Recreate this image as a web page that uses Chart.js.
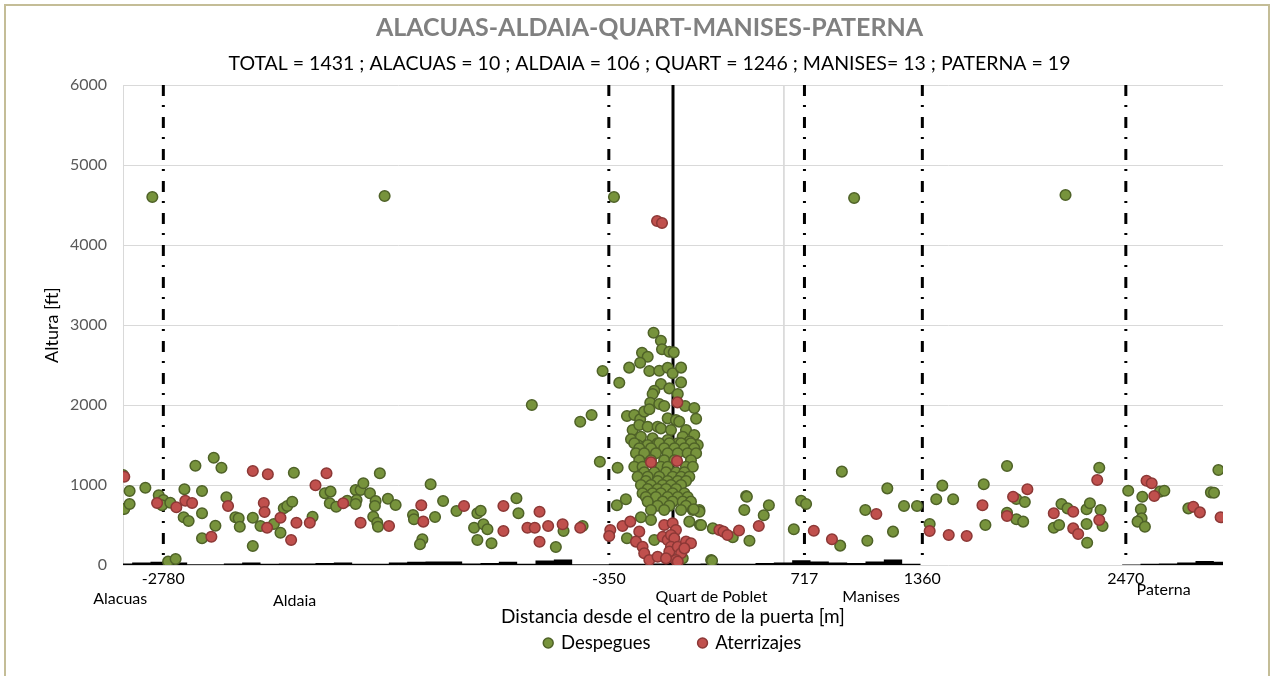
<!DOCTYPE html>
<html>
<head>
<meta charset="utf-8">
<script src="https://cdn.jsdelivr.net/npm/chart.js@4/dist/chart.umd.min.js"></script>
<style>
  html, body { margin: 0; padding: 0; background: #fff; }
  #wrap { position: relative; width: 1271px; height: 676px; overflow: hidden; background: #fff; }
  #grafico { position: absolute; left: 0; top: 0; }
  #marco { position: absolute; left: 4px; top: 4px; width: 1266px; height: 700px;
           border: 2px solid #c4bd97; box-sizing: border-box; pointer-events: none; }
</style>
</head>
<body>
<div id="wrap">
  <canvas id="grafico" width="1271" height="676" style="width:1271px;height:676px"></canvas>
  <div id="marco"></div>
</div>
<script>
// Despegues [distancia m, altura ft]
const despegues = [
  [-3000,1125],[-2964,925],[-2993,700],[-2964,762],[-2878,966],[-2805,871],[-2780,812],[-2787,746],
  [-2742,779],[-2665,946],[-2605,1241],[-2505,1341],[-2463,1216],[-2569,925],[-2569,646],[-2669,596],
  [-2642,550],[-2496,491],[-2569,334],[-2436,846],[-2387,596],[-2369,584],[-2363,479],[-2292,591],
  [-2292,238],[-2250,488],[-2177,513],[-2141,404],[-2123,709],[-2104,738],[-2077,791],[-1966,604],
  [-2068,1154],[-1899,896],[-1868,917],[-1872,771],[-1837,729],[-1777,804],[-1731,938],[-1704,938],
  [-1689,1021],[-1726,813],[-1731,763],[-1653,896],[-1622,800],[-1626,738],[-1635,604],[-1613,529],
  [-1609,479],[-1599,1146],[-1555,829],[-1513,750],[-2754,42],[-2713,75],
  [-1418,625],[-1413,571],[-1367,321],[-1380,259],[-1322,1009],[-1298,600],[-1254,800],[-1181,675],
  [-1067,646],[-1049,679],[-1085,466],[-1034,509],[-1012,446],[-1067,313],[-990,271],[-854,834],
  [-843,646],[-639,225],[-597,425],[-493,488],[-506,1791],[-399,1291],[-302,1216],[-306,746],
  [-257,821],[-251,334],[-770,2000],[-444,1875],[-384,2425],[-293,2279],
  [-2840,4600],[-1573,4613],[-322,4600],[988,4588],[2141,4625],
  [-106,2904],[-66,2804],[-60,2696],[-20,2666],[4,2658],[-169,2654],[-138,2604],[-179,2529],
  [-239,2467],[-129,2425],[-75,2429],[-29,2466],[-2,2396],[44,2467],[-66,2262],[-20,2208],
  [44,2283],[-102,2179],[-111,2138],[26,2138],[-124,2029],[-75,2013],[-48,1988],[66,1988],
  [116,1963],[126,1829],[-251,1863],[-211,1875],[-179,1821],[-157,1917],[-129,1946],[-220,1688],
  [-184,1750],[-138,1729],[-84,1729],[-29,1833],[16,1813],[34,1792],[71,1688],[116,1625],
  [-229,1571],[-175,1604],[-111,1583],[-66,1708],[-11,1688],[53,1604],[89,1542],[135,1500],
  [-193,1500],[-138,1500],[-84,1521],[-29,1563],[26,1521],[71,1488],
  [-211,1521],[-75,1521],[-20,1521],[44,1521],[98,1521],
  [-184,1460],[-120,1460],[-48,1460],[8,1460],[62,1460],[116,1460],
  [-202,1396],[-157,1396],[-93,1396],[-29,1396],[26,1396],[80,1396],[126,1396],
  [-184,1310],[-120,1310],[-48,1310],[8,1310],[98,1310],
  [-211,1229],[-166,1229],[-66,1229],[-29,1229],[71,1229],[108,1229],
  [-157,1160],[-102,1160],[-38,1160],[17,1160],[62,1160],
  [-193,1104],[-138,1104],[-75,1104],[-2,1104],[44,1104],[89,1104],
  [-148,1050],[-84,1050],[-29,1050],[26,1050],[71,1050],
  [-175,1000],[-120,1000],[-56,1000],[-11,1000],[44,1000],
  [-138,950],[-84,950],[-38,950],[17,950],
  [-166,896],[-111,896],[-66,896],[-2,896],[62,896],
  [-148,850],[-93,850],[-29,850],[26,850],[80,850],
  [-138,792],[-56,792],[-2,792],[53,792],[98,792],
  [-84,740],[-20,740],[71,740],
  [-120,688],[-48,688],[44,688],[108,688],[144,688],
  [-175,596],[-120,563],[89,542],[147,500],[217,458],[-102,313],[208,63],[53,83],
  [399,863],[389,688],[523,746],[495,621],[417,304],[326,346],[213,54],[144,666],[113,696],
  [153,500],[403,854],[699,804],[726,763],[659,446],[921,1167],[912,242],[1049,688],[1060,304],
  [1169,958],[1200,417],[1260,738],[1331,738],[1400,513],[1436,821],[1469,992],[1528,821],
  [1695,1009],[1704,500],[1822,1238],[1873,825],[1919,788],[1822,654],[1873,571],[1910,542],
  [2119,763],[2152,708],[2077,466],[2106,500],[2259,279],[2256,696],[2274,771],[2332,688],
  [2256,513],[2343,488],[2325,1216],[2483,929],[2560,854],[2552,696],[2556,583],[2534,542],
  [2574,479],[2656,917],[2680,929],[2811,708],[2934,908],[2951,904],[2975,1188]
];

// Aterrizajes [distancia m, altura ft]
const aterrizajes = [
  [-2993,1104],[-2814,775],[-2709,721],[-2660,804],[-2623,775],[-2518,354],[-2427,738],[-2292,1175],
  [-2210,1134],[-2232,775],[-2228,663],[-2214,466],[-2141,591],[-2083,313],[-2054,529],[-1981,529],
  [-1950,996],[-1890,1146],[-1799,771],[-1704,529],[-1549,488],
  [-1373,746],[-1362,542],[-1140,738],[-925,738],[-925,425],[-794,466],[-754,466],[-728,666],
  [-728,291],[-681,488],[-602,509],[-506,466],[-342,438],[-348,363],[-275,488],
  [-87,4300],[-60,4275],
  [24,2033],[-120,1284],[22,1300],[-233,542],[-184,417],[-202,292],[-166,229],[-157,146],
  [-129,63],[-84,104],[-48,500],[-2,521],[16,438],[-56,354],[-29,313],[-11,375],[7,333],
  [-11,229],[-20,167],[26,229],[44,146],[16,63],[-38,83],[71,292],[98,271],[62,208],[26,42],
  [253,438],[275,417],[297,375],[360,432],
  [468,488],[768,429],[867,321],[1109,638],[1400,425],[1504,375],[1602,363],[1688,746],
  [1855,854],[1933,946],[1822,613],[2077,646],[2183,666],[2183,458],[2210,388],[2325,563],
  [2314,1063],[2583,1054],[2611,1021],[2625,863],[2838,729],[2874,658],[2987,596]
];

// Perfil del terreno / edificios (cada 100 m, ft)
const terrenoX = [-3000,-2900,-2800,-2700,-2600,-2500,-2400,-2300,-2200,-2100,-2000,-1900,-1800,-1700,
  -1600,-1500,-1400,-1300,-1200,-1100,-1000,-900,-800,-700,-600,-500,-400,-300,-200,-100,0,
  100,200,300,400,500,600,700,800,900,1000,1100,1200,1300,1400,1500,1600,1700,1800,1900,2000,
  2100,2200,2300,2400,2500,2600,2700,2800,2900,3000];
const terrenoY = [20,30,40,30,10,10,20,30,15,20,20,25,30,15,
  15,30,40,45,45,20,25,40,15,55,70,10,10,15,15,20,30,
  15,20,15,15,25,30,60,45,30,25,45,70,15,0,0,0,0,0,0,0,
  0,0,0,0,5,15,20,30,50,40];

// Limites de municipios y eje de la puerta
const limitesX = [-2780, -350, 717, 1360, 2470];
const puertaX = 0;
const lineaGrisX = 605;

const ticksX = [-2780, -350, 717, 1360, 2470];
const municipios = ['Alacuas', 'Aldaia', 'Quart de Poblet', 'Manises', 'Paterna'];
const municipiosX = [-3015, -2064, 210, 1081, 2676];

const titulo = 'ALACUAS-ALDAIA-QUART-MANISES-PATERNA';
const subtitulo = 'TOTAL = 1431 ; ALACUAS = 10 ; ALDAIA = 106 ; QUART = 1246 ; MANISES= 13 ; PATERNA = 19';

Chart.defaults.font.family = 'Lato, "Open Sans", sans-serif';

const toPts = arr => arr.map(p => ({ x: p[0], y: p[1] }));
const vertical = x => [{ x: x, y: 6000 }, { x: x, y: 0 }];

const lineStyle = { type: 'line', showLine: true, pointRadius: 0, fill: false, borderColor: '#000' };

const datasets = [
  {
    label: 'Despegues', data: toPts(despegues), order: 1,
    backgroundColor: '#77933c', borderColor: '#4f6228', borderWidth: 1.5, pointRadius: 5.3, pointStyle: 'circle'
  },
  {
    label: 'Aterrizajes', data: toPts(aterrizajes), order: 0,
    backgroundColor: '#c0504d', borderColor: '#8c3836', borderWidth: 1.5, pointRadius: 5.3, pointStyle: 'circle'
  },
  { ...lineStyle, label: 'puerta', data: vertical(puertaX), borderWidth: 3, order: 2 },
  { ...lineStyle, label: 'gris', data: vertical(lineaGrisX), borderWidth: 1, borderColor: '#d9d9d9', order: 4 }
];
limitesX.forEach((x, i) => {
  datasets.push({ ...lineStyle, label: 'limite' + i, data: vertical(x), borderWidth: 3,
    borderDash: [11, 9, 2, 10], order: 2 });
});
datasets.push({
  type: 'line', label: 'terreno', showLine: true, order: 3,
  data: terrenoX.map((x, i) => ({ x: x, y: terrenoY[i] })),
  pointRadius: 0, borderWidth: 0, borderColor: '#000', backgroundColor: '#000',
  fill: 'origin', stepped: 'middle'
});

const nombresPlugin = {
  id: 'nombres',
  afterDraw(chart) {
    const { ctx, chartArea, scales } = chart;
    const offsets = [34, 36, 32, 32, 25];
    ctx.save();
    ctx.font = '16px Lato';
    ctx.fillStyle = '#000';
    ctx.textAlign = 'center';
    ctx.textBaseline = 'middle';
    municipios.forEach((n, i) => {
      ctx.fillText(n, scales.x.getPixelForValue(municipiosX[i]), chartArea.bottom + offsets[i]);
    });
    ctx.restore();
  }
};

new Chart(document.getElementById('grafico'), {
  type: 'scatter',
  data: { datasets: datasets },
  plugins: [nombresPlugin],
  options: {
    responsive: false,
    animation: false,
    events: [],
    layout: { padding: { left: 28, right: 0, top: 0, bottom: 13.75 } },
    plugins: {
      title: {
        display: true, text: titulo, color: '#808080',
        font: { size: 25, weight: 'bold' }, padding: { top: 13, bottom: 4 }
      },
      subtitle: {
        display: true, text: subtitulo, color: '#000',
        font: { size: 19.5 }, padding: { top: 5.3, bottom: 9.3 }
      },
      legend: {
        position: 'bottom', fullSize: false,
        labels: {
          filter: item => item.datasetIndex < 2,
          sort: (a, b) => a.datasetIndex - b.datasetIndex,
          usePointStyle: true, pointStyle: 'circle', boxWidth: 7, boxHeight: 7,
          padding: 48.5, color: '#000', font: { size: 18.5 }
        }
      },
      tooltip: { enabled: false }
    },
    scales: {
      x: {
        type: 'linear', min: -3000, max: 3000,
        grid: { display: false, drawTicks: false },
        border: { display: false },
        afterBuildTicks: axis => { axis.ticks = ticksX.map(v => ({ value: v })); },
        afterFit: scale => { scale.height = 20.25; },
        ticks: { autoSkip: false, maxRotation: 0, padding: 4, color: '#000', font: { size: 16 },
          callback: v => String(v) },
        title: {
          display: true, text: 'Distancia desde el centro de la puerta [m]', color: '#000',
          font: { size: 19 }, padding: { top: 0, bottom: -43.15 }
        }
      },
      y: {
        min: 0, max: 6000,
        grid: { color: '#d9d9d9', drawTicks: false },
        border: { color: '#d9d9d9' },
        afterFit: scale => { scale.width = 95; },
        ticks: { stepSize: 1000, padding: 16, color: '#595959', font: { size: 16 },
          callback: v => String(v) },
        title: {
          display: true, text: 'Altura [ft]', color: '#000',
          font: { size: 18 }, padding: { top: 13, bottom: 0 }
        }
      },
      y2: {
        position: 'right', min: 0, max: 1,
        grid: { display: false, drawTicks: false },
        border: { display: false },
        ticks: { display: false },
        afterFit: scale => { scale.width = 48; }
      }
    }
  }
});
</script>
</body>
</html>
